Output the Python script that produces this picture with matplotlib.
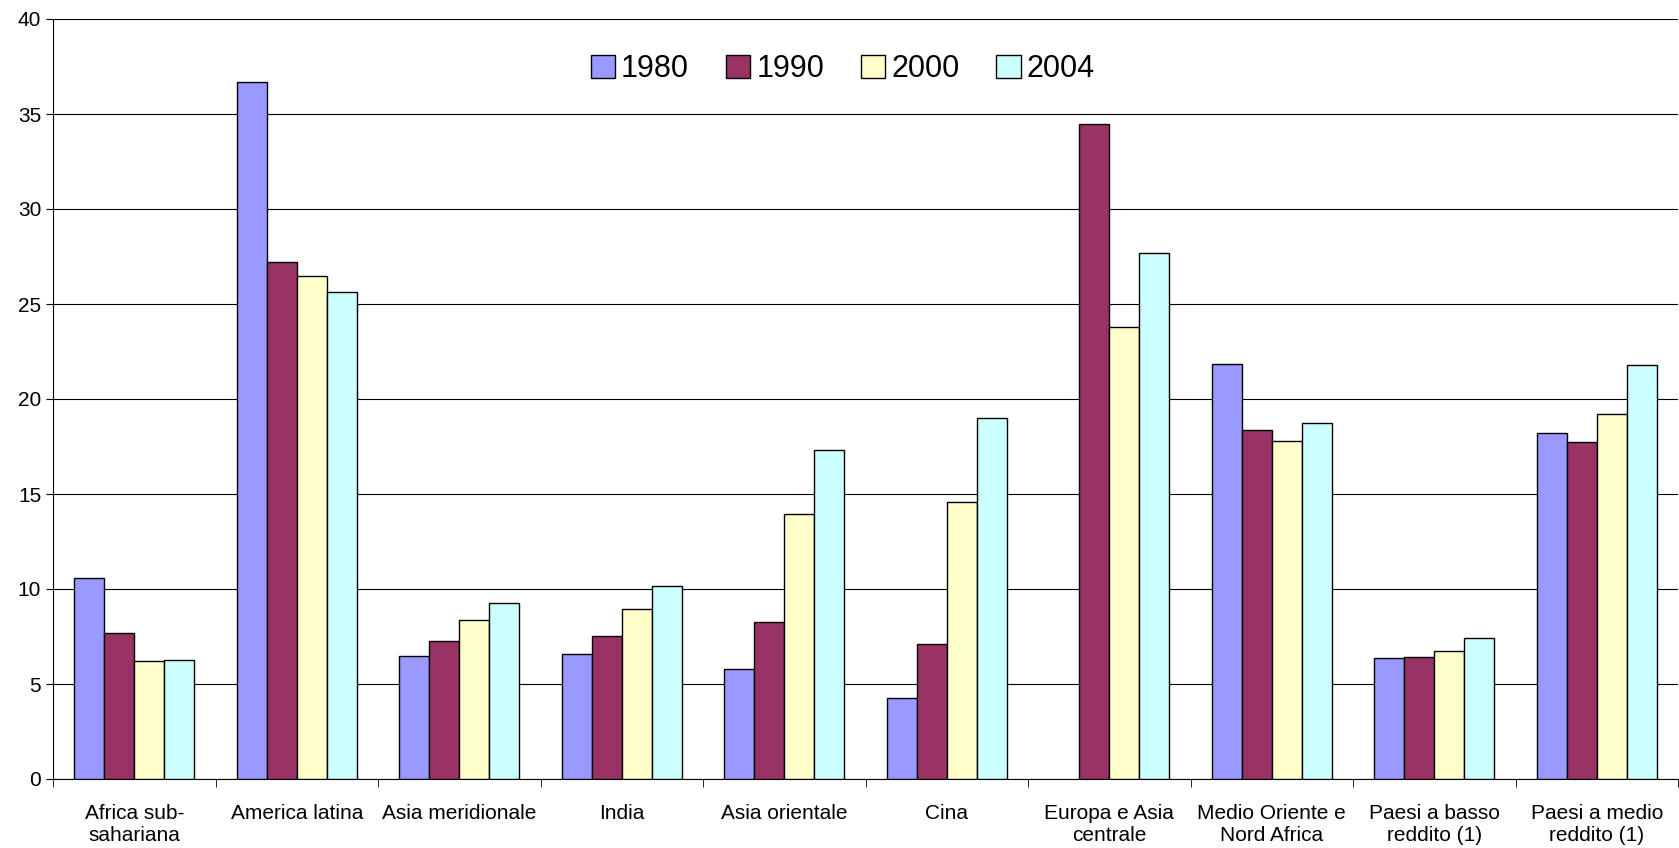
import numpy as np
import matplotlib.pyplot as plt

categories = ["Africa sub-\nsahariana", "America latina", "Asia meridionale", "India",
              "Asia orientale", "Cina", "Europa e Asia\ncentrale", "Medio Oriente e\nNord Africa",
              "Paesi a basso\nreddito (1)", "Paesi a medio\nreddito (1)"]
years = ["1980", "1990", "2000", "2004"]
v1980 = [10.6, 36.7, 6.45, 6.6, 5.8, 4.25, np.nan, 21.85, 6.35, 18.2]
v1990 = [7.7, 27.2, 7.25, 7.55, 8.25, 7.1, 34.45, 18.35, 6.4, 17.75]
v2000 = [6.2, 26.5, 8.35, 8.95, 13.95, 14.6, 23.8, 17.8, 6.75, 19.2]
v2004 = [6.25, 25.65, 9.25, 10.15, 17.3, 19.0, 27.7, 18.75, 7.4, 21.8]
colors = ["#9999FF", "#993366", "#FFFFCC", "#CCFFFF"]

fig = plt.figure(figsize=(16.79, 8.48), dpi=100)
ax = fig.add_axes([53 / 1679, 1 - 779 / 848, 1625 / 1679, 760 / 848])

x = np.arange(len(categories))
w = 0.184
for i, (vals, c, lab) in enumerate(zip([v1980, v1990, v2000, v2004], colors, years)):
    ax.bar(x + (i - 1.5) * w, vals, w, color=c, edgecolor="black", linewidth=1, label=lab, zorder=3)

ax.set_xlim(-0.5, len(categories) - 0.5)
ax.set_ylim(0, 40)
ax.set_yticks(range(0, 41, 5))
ax.yaxis.grid(True, color="black", linewidth=0.8, zorder=0)
ax.set_xticks(x)
ax.set_xticklabels(categories, fontsize=15, family="Liberation Sans")
ax.set_xticks(np.arange(-0.5, len(categories), 1), minor=True)
ax.tick_params(axis="x", which="major", length=0, pad=18)
ax.tick_params(axis="x", which="minor", length=6, direction="out")
ax.tick_params(axis="y", labelsize=15, length=5)
for t in ax.get_yticklabels():
    t.set_family("Liberation Sans")
for s in ["top", "right"]:
    ax.spines[s].set_visible(False)

leg = ax.legend(loc="upper center", ncol=4, frameon=False, bbox_to_anchor=(0.486, 0.99),
                prop={"family": "Liberation Sans", "size": 22},
                handlelength=0.8, handleheight=0.8, handletextpad=0.2, columnspacing=1.2)
fig.savefig("out.png", dpi=100)
